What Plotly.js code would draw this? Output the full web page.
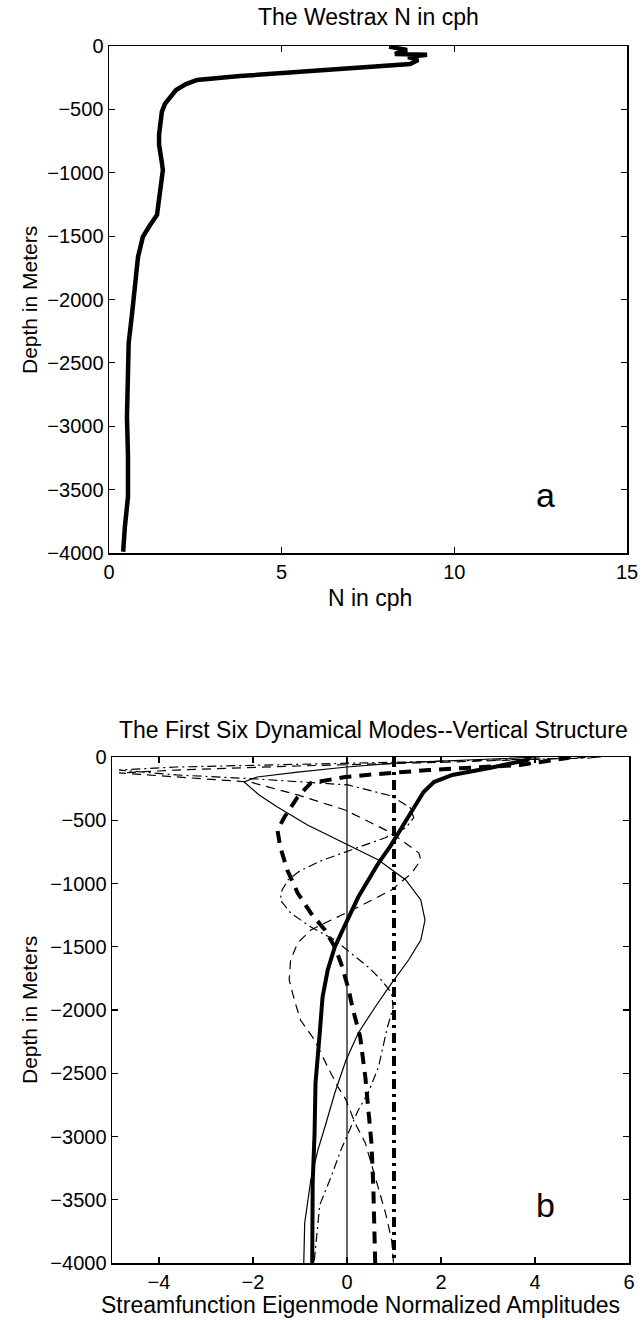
<!DOCTYPE html>
<html>
<head>
<meta charset="utf-8">
<script src="https://cdn.plot.ly/plotly-3.0.1.min.js"></script>
<style>html,body{margin:0;padding:0;background:#fff}#chart{width:643px;height:1320px}</style>
</head>
<body>
<div id="chart"></div>
<script>
// ---- Panel a: Westrax buoyancy frequency profile ----
const nDepth = [-5,-32,-63,-70,-87,-110,-142,-173,-205,-237,-268,-300,-347,-402,-457,-520,-600,-700,-780,-820,-900,-978,-1160,-1333,-1412,-1506,-1664,-1924,-2106,-2342,-2500,-2658,-2926,-3241,-3557,-3793,-3990];
const nCph   = [8.11,8.63,8.28,9.21,8.66,8.95,8.72,6.98,5.33,3.79,2.55,2.23,1.94,1.77,1.62,1.53,1.48,1.45,1.45,1.48,1.52,1.56,1.48,1.39,1.19,0.98,0.84,0.75,0.67,0.57,0.55,0.54,0.52,0.55,0.55,0.46,0.41];

// ---- Panel b: first six dynamical modes ----
const zeroDepth = [0,-4000];
const zeroAmp   = [0,0];

const mode0Depth = [0,-4000];
const mode0Amp   = [1.0,1.0];

const mode1Depth = [0,-24,-87,-142,-198,-277,-403,-553,-700,-838,-970,-1107,-1312,-1502,-1684,-1897,-2182,-2577,-2972,-3368,-4000];
const mode1Amp   = [3.9,3.83,3.03,2.24,1.85,1.63,1.42,1.18,0.93,0.67,0.45,0.24,-0.02,-0.26,-0.41,-0.52,-0.58,-0.67,-0.69,-0.73,-0.74];

const mode2Depth = [0,-8,-63,-79,-103,-134,-158,-206,-316,-474,-577,-711,-893,-1075,-1233,-1368,-1502,-1628,-1818,-2000,-2213,-2530,-2791,-3051,-3399,-4000];
const mode2Amp   = [4.75,4.69,3.68,2.82,1.74,0.67,-0.04,-0.77,-1.05,-1.33,-1.48,-1.42,-1.27,-1.05,-0.77,-0.47,-0.26,-0.13,0.02,0.13,0.28,0.39,0.45,0.52,0.56,0.60];

const mode3Depth = [0,-24,-47,-79,-119,-158,-198,-300,-395,-538,-656,-814,-972,-1130,-1289,-1447,-1605,-1787,-1976,-2182,-2395,-2656,-2925,-3107,-3344,-3684,-4000];
const mode3Amp   = [4.1,2.6,1.1,0.0,-1.05,-1.91,-2.19,-1.87,-1.48,-0.84,-0.19,0.67,1.25,1.57,1.66,1.57,1.31,0.95,0.60,0.24,-0.02,-0.26,-0.47,-0.62,-0.77,-0.90,-0.92];

const mode4Depth = [0,-40,-71,-103,-126,-158,-198,-300,-419,-601,-696,-759,-814,-917,-1051,-1186,-1312,-1368,-1470,-1605,-1763,-1921,-2079,-2237,-2451,-2609,-2711,-2893,-3051,-3320,-3605,-3818,-4000];
const mode4Amp   = [5.4,2.17,-1.05,-3.63,-4.85,-3.63,-2.06,-1.05,-0.04,0.95,1.31,1.53,1.57,1.38,0.95,0.24,-0.47,-0.77,-1.05,-1.20,-1.23,-1.12,-0.99,-0.69,-0.41,-0.19,-0.02,0.17,0.39,0.60,0.82,0.95,0.99];

const mode5Depth = [0,-8,-32,-55,-79,-103,-142,-174,-221,-308,-403,-480,-560,-640,-735,-820,-900,-970,-1051,-1130,-1233,-1344,-1447,-1549,-1660,-1763,-1866,-1980,-2150,-2451,-2656,-2791,-2972,-3107,-3320,-3447,-3541,-4000];
const mode5Amp   = [5.3,5.18,2.17,-1.05,-3.63,-4.85,-3.63,-1.91,0.02,0.95,1.35,1.42,1.25,0.80,0.09,-0.55,-1.0,-1.25,-1.38,-1.42,-1.20,-0.77,-0.26,0.09,0.45,0.73,0.95,0.98,0.85,0.67,0.45,0.24,0.02,-0.13,-0.34,-0.47,-0.58,-0.70];

const depthTicks = [0,-500,-1000,-1500,-2000,-2500,-3000,-3500,-4000];
const nTicks = [0,5,10,15];
const ampTicks = [-4,-2,0,2,4,6];

const FONT = 'Liberation Sans, Arial, Helvetica, sans-serif';
const W = 643, H = 1320;
const px = v => v / W, py = v => 1 - v / H;

function line(x, y, ax, width, dash) {
  return {x: x, y: y, type: 'scatter', mode: 'lines', xaxis: ax[0], yaxis: ax[1],
    line: {color: 'black', width: width, dash: dash || 'solid'}, hoverinfo: 'skip'};
}
const A = ['x', 'y'], B = ['x2', 'y2'];
const traces = [
  line(nCph, nDepth, A, 4.5),
  line(zeroAmp, zeroDepth, B, 1.2),
  line(mode0Amp, mode0Depth, B, 4, '10px,5px,3px,5px'),
  line(mode1Amp, mode1Depth, B, 4),
  line(mode2Amp, mode2Depth, B, 4, '12px,8px'),
  line(mode3Amp, mode3Depth, B, 1.2),
  line(mode4Amp, mode4Depth, B, 1.2, '9px,6px'),
  line(mode5Amp, mode5Depth, B, 1.2, '9px,4px,2px,4px')
];

function axis(range, ticks, domain, anchor) {
  return {range: range, tickvals: ticks, domain: domain, anchor: anchor,
    showline: true, mirror: 'ticks', linecolor: 'black', linewidth: 1.5,
    ticks: 'inside', ticklen: 6, tickwidth: 1.2, tickcolor: 'black',
    showgrid: false, zeroline: false, fixedrange: true,
    tickfont: {family: FONT, size: 20, color: 'black'}};
}

const TS = 23;
const layout = {
  width: W, height: H,
  margin: {l: 0, r: 0, t: 0, b: 0},
  paper_bgcolor: 'white', plot_bgcolor: 'white',
  showlegend: false,
  font: {family: FONT, color: 'black'},
  xaxis:  axis([0, 15], nTicks, [px(109), px(627)], 'y'),
  yaxis:  axis([-4000, 0], depthTicks, [py(553), py(46)], 'x'),
  xaxis2: axis([-5, 6], ampTicks, [px(112), px(629)], 'y2'),
  yaxis2: axis([-4000, 0], depthTicks, [py(1263), py(757)], 'x2'),
  annotations: [
    {text: 'The Westrax N in cph', x: px(368), y: py(17), xref: 'paper', yref: 'paper', showarrow: false, xanchor: 'center', yanchor: 'middle', font: {family: FONT, size: TS}},
    {text: 'N in cph', x: px(370), y: py(598), xref: 'paper', yref: 'paper', showarrow: false, xanchor: 'center', yanchor: 'middle', font: {family: FONT, size: TS}},
    {text: 'Depth in Meters', x: px(29), y: py(300), xref: 'paper', yref: 'paper', showarrow: false, textangle: -90, xanchor: 'center', yanchor: 'middle', font: {family: FONT, size: 21}},
    {text: 'a', x: px(545), y: py(495), xref: 'paper', yref: 'paper', showarrow: false, xanchor: 'center', yanchor: 'middle', font: {family: FONT, size: 34}},
    {text: 'The First Six Dynamical Modes--Vertical Structure', x: px(373), y: py(730), xref: 'paper', yref: 'paper', showarrow: false, xanchor: 'center', yanchor: 'middle', font: {family: FONT, size: TS}},
    {text: 'Streamfunction Eigenmode Normalized Amplitudes', x: px(360), y: py(1305), xref: 'paper', yref: 'paper', showarrow: false, xanchor: 'center', yanchor: 'middle', font: {family: FONT, size: TS}},
    {text: 'Depth in Meters', x: px(29), y: py(1010), xref: 'paper', yref: 'paper', showarrow: false, textangle: -90, xanchor: 'center', yanchor: 'middle', font: {family: FONT, size: 21}},
    {text: 'b', x: px(545), y: py(1205), xref: 'paper', yref: 'paper', showarrow: false, xanchor: 'center', yanchor: 'middle', font: {family: FONT, size: 34}}
  ]
};

Plotly.newPlot('chart', traces, layout, {staticPlot: true, displayModeBar: false});
</script>
</body>
</html>
